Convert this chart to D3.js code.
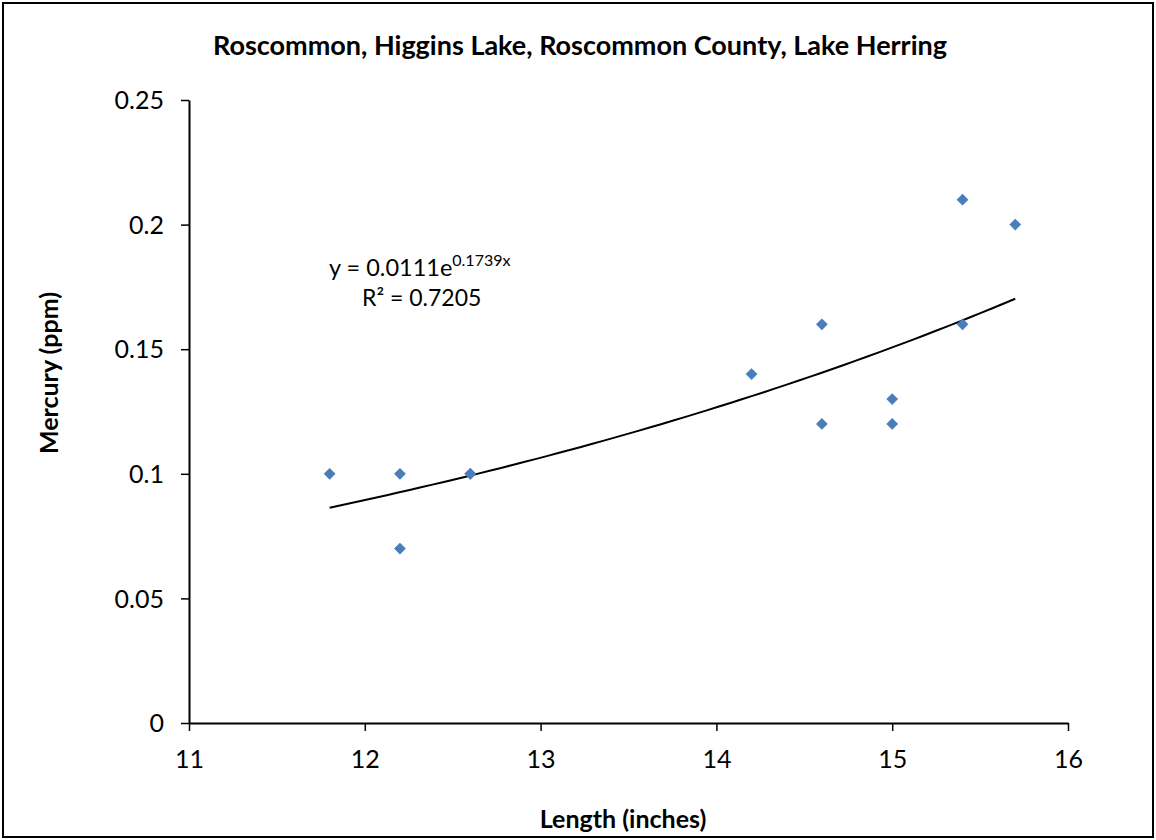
<!DOCTYPE html>
<html>
<head>
<meta charset="utf-8">
<script src="https://cdn.jsdelivr.net/npm/d3@7"></script>
<style>
  body { margin: 0; background: #fff; }
  svg { display: block; font-family: Lato, "Open Sans", sans-serif; }
</style>
</head>
<body>
<svg width="1156" height="840"></svg>
<script>
// @ Data
const lengths = [11.8, 12.2, 12.2, 12.6, 12.6, 14.2, 14.6, 14.6, 15.0, 15.0, 15.4, 15.4, 15.7];
const mercury = [0.10, 0.10, 0.07, 0.10, 0.10, 0.14, 0.16, 0.12, 0.13, 0.12, 0.21, 0.16, 0.20];
const xTicks = [11, 12, 13, 14, 15, 16];
const yTicks = [0, 0.05, 0.1, 0.15, 0.2, 0.25];
// @ Exponential trendline coefficients (y = a * e^(b x))
const trendA = 0.0111;
const trendB = 0.1739;

const svg = d3.select("svg");

// chart border
svg.append("rect")
  .attr("x", 3).attr("y", 3)
  .attr("width", 1150).attr("height", 834)
  .attr("fill", "none")
  .attr("stroke", "#000")
  .attr("stroke-width", 2);

const x = d3.scaleLinear().domain([11, 16]).range([189, 1068]);
const y = d3.scaleLinear().domain([0, 0.25]).range([723, 100]);

// ======= AXES =======
const xAxis = svg.append("g")
  .attr("transform", `translate(0,${y(0)})`)
  .call(d3.axisBottom(x).tickValues(xTicks).tickFormat(d3.format("d")).tickSize(8).tickSizeOuter(0));

const yAxis = svg.append("g")
  .attr("transform", `translate(${x(11)},0)`)
  .call(d3.axisLeft(y).tickValues(yTicks).tickFormat(d => d === 0 ? "0" : String(+d.toFixed(2))).tickSize(8).tickSizeOuter(0));

[xAxis, yAxis].forEach(g => {
  g.select(".domain").attr("stroke", "#000").attr("stroke-width", 2);
  g.selectAll(".tick line").attr("stroke", "#000").attr("stroke-width", 1.5);
  g.selectAll(".tick text").attr("fill", "#000").style("font-size", "25px").style("font-family", "Lato, sans-serif");
});
xAxis.selectAll(".tick text").attr("dy", "0").attr("y", 45);
yAxis.selectAll(".tick text").attr("x", -25).attr("dy", "0.35em");

// ======= TRENDLINE =======
const xMin = d3.min(lengths), xMax = d3.max(lengths);
const trendPts = d3.range(0, 61).map(i => {
  const xv = xMin + (xMax - xMin) * i / 60;
  return [xv, trendA * Math.exp(trendB * xv)];
});
svg.append("path")
  .datum(trendPts)
  .attr("fill", "none")
  .attr("stroke", "#000")
  .attr("stroke-width", 2)
  .attr("d", d3.line().x(d => x(d[0])).y(d => y(d[1])));

// ======= POINTS =======
const diamond = d3.symbol().type(d3.symbolDiamond2).size(88);
svg.selectAll(".pt")
  .data(lengths.map((l, i) => [l, mercury[i]]))
  .enter().append("path")
  .attr("class", "pt")
  .attr("transform", d => `translate(${x(d[0])},${y(d[1])})`)
  .attr("d", diamond)
  .attr("fill", "#4a7ebb");

// ======= TEXT =======
svg.append("text")
  .attr("x", 580).attr("y", 55)
  .attr("text-anchor", "middle")
  .style("font-size", "27px").style("font-weight", "bold")
  .text("Roscommon, Higgins Lake, Roscommon County, Lake Herring");

svg.append("text")
  .attr("x", 623).attr("y", 828)
  .attr("text-anchor", "middle")
  .style("font-size", "25px").style("font-weight", "bold")
  .text("Length (inches)");

svg.append("text")
  .attr("transform", "translate(58,373) rotate(-90)")
  .attr("text-anchor", "middle")
  .style("font-size", "25px").style("font-weight", "bold")
  .text("Mercury (ppm)");

const eq = svg.append("text")
  .attr("x", 329).attr("y", 276)
  .style("font-size", "23.5px");
eq.append("tspan").text("y = 0.0111e");
eq.append("tspan").attr("dy", -10).style("font-size", "16px").text("0.1739x");

svg.append("text")
  .attr("x", 362).attr("y", 306)
  .style("font-size", "23px")
  .text("R² = 0.7205");
</script>
</body>
</html>
